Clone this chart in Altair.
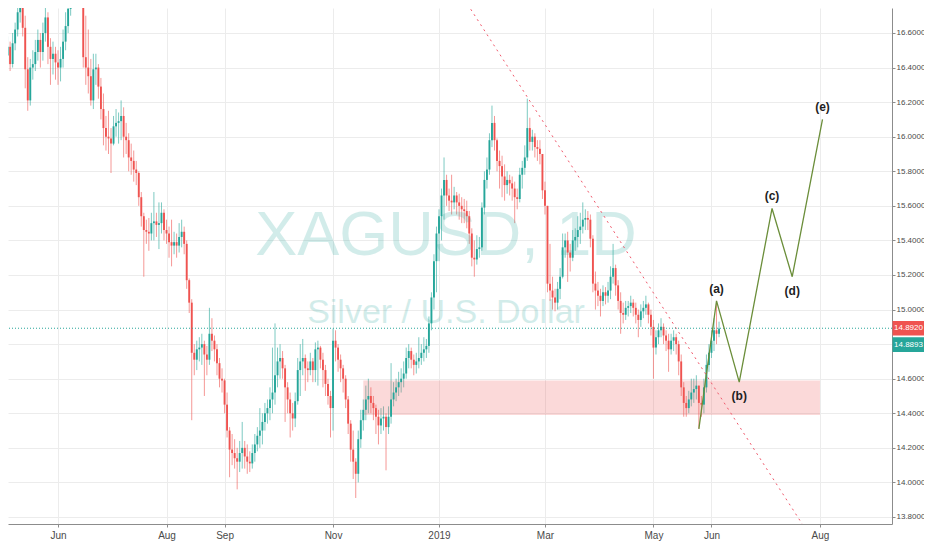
import altair as alt
import pandas as pd

# ---------------- data ----------------
first_open = 16.36
closes = [
    16.32, 16.43, 16.47, 16.52, 16.42, 16.54, 16.62, 16.72, 16.76, 16.63,
    16.39, 16.21, 16.40, 16.42, 16.49, 16.56, 16.49, 16.60, 16.69, 16.52,
    16.45, 16.48, 16.43, 16.40, 16.45, 16.55, 16.64, 16.74, 16.88, 16.97,
    16.90, 17.25, 16.85, 16.46, 16.40, 16.35, 16.21, 16.39, 16.40, 16.29,
    16.16, 16.05, 16.00, 15.99, 15.96, 16.06, 16.08, 16.09, 16.12, 16.00,
    15.98, 15.88, 15.86, 15.81, 15.79, 15.65, 15.54, 15.46, 15.45, 15.44,
    15.50, 15.51, 15.49, 15.50, 15.56, 15.46, 15.44, 15.39, 15.37, 15.39,
    15.37, 15.42, 15.45, 15.38, 15.17, 15.04, 14.75, 14.71, 14.77, 14.78,
    14.80, 14.74, 14.71, 14.86, 14.82, 14.77, 14.69, 14.60, 14.59, 14.45,
    14.30, 14.19, 14.17, 14.14, 14.12, 14.17, 14.20, 14.15, 14.12, 14.11,
    14.17, 14.22, 14.27, 14.30, 14.35, 14.40, 14.43, 14.48, 14.52, 14.62,
    14.70, 14.72, 14.66, 14.55, 14.48, 14.40, 14.37, 14.47, 14.65, 14.70,
    14.72, 14.66, 14.65, 14.70, 14.65, 14.77, 14.78, 14.71, 14.65, 14.57,
    14.50, 14.43, 14.82, 14.78, 14.71, 14.66, 14.60, 14.48, 14.34, 14.19,
    14.12, 14.05, 14.25, 14.36, 14.42, 14.48, 14.50, 14.46, 14.43, 14.38,
    14.33, 14.37, 14.38, 14.32, 14.38, 14.48, 14.52, 14.55, 14.58, 14.60,
    14.63, 14.72, 14.76, 14.71, 14.68, 14.70, 14.72, 14.75, 14.77, 14.79,
    14.92, 15.07, 15.28, 15.44, 15.54, 15.66, 15.75, 15.66, 15.63, 15.62,
    15.66, 15.62, 15.60, 15.58, 15.57, 15.54, 15.44, 15.30, 15.29, 15.35,
    15.36, 15.59, 15.75, 15.81, 15.98, 16.08, 15.98, 15.86, 15.83, 15.77,
    15.72, 15.75, 15.73, 15.70, 15.65, 15.64, 15.78, 15.82, 15.88, 16.05,
    15.97, 16.00, 15.94, 15.93, 15.90, 15.69, 15.60, 15.15, 15.11, 15.07,
    15.04, 15.12, 15.19, 15.36, 15.40, 15.33, 15.30, 15.40, 15.42, 15.46,
    15.48, 15.52, 15.53, 15.52, 15.41, 15.15, 15.11, 15.08, 15.05, 15.10,
    15.08, 15.11, 15.19, 15.24, 15.14, 15.05, 14.98, 14.97, 15.01, 15.02,
    15.04, 15.01, 14.97, 14.94, 14.99, 15.01, 15.03, 14.97, 14.90, 14.78,
    14.84, 14.88, 14.90, 14.85, 14.82, 14.77, 14.82, 14.84, 14.80, 14.70,
    14.55, 14.46, 14.43, 14.48, 14.52, 14.54, 14.56, 14.46, 14.45, 14.55,
    14.68, 14.75, 14.82, 14.88, 14.86, 14.89,
]
highs = [
    16.54, 16.48, 16.53, 16.58, 16.55, 16.60, 16.66, 16.79, 16.80, 16.78,
    16.70, 16.46, 16.45, 16.50, 16.56, 16.62, 16.60, 16.66, 16.76, 16.72,
    16.57, 16.55, 16.52, 16.50, 16.52, 16.62, 16.72, 16.82, 16.95, 17.05,
    17.02, 17.34, 17.28, 16.86, 16.70, 16.62, 16.45, 16.48, 16.48, 16.42,
    16.34, 16.25, 16.12, 16.15, 16.05, 16.12, 16.16, 16.14, 16.21, 16.17,
    16.08, 16.02, 15.96, 15.92, 15.86, 15.80, 15.68, 15.56, 15.52, 15.53,
    15.56, 15.68, 15.56, 15.62, 15.62, 15.58, 15.52, 15.48, 15.52, 15.45,
    15.44, 15.50, 15.52, 15.48, 15.40, 15.18, 15.06, 14.80, 14.82, 14.84,
    14.86, 14.82, 14.79, 15.01, 14.95, 14.85, 14.80, 14.72, 14.66, 14.60,
    14.52, 14.32, 14.28, 14.25, 14.20, 14.24, 14.35, 14.24, 14.22, 14.18,
    14.22, 14.28, 14.32, 14.43, 14.40, 14.46, 14.48, 14.55, 14.78, 14.92,
    14.78, 14.80, 14.76, 14.68, 14.58, 14.52, 14.46, 14.52, 14.72, 14.80,
    14.83, 14.74, 14.70, 14.75, 14.72, 14.81, 14.82, 14.79, 14.75, 14.68,
    14.60, 14.53, 14.89, 14.88, 14.80, 14.74, 14.68, 14.62, 14.50, 14.36,
    14.30, 14.14, 14.30, 14.42, 14.48, 14.56, 14.60, 14.55, 14.50, 14.45,
    14.42, 14.43, 14.44, 14.40, 14.44, 14.69, 14.58, 14.60, 14.64, 14.66,
    14.70, 14.78, 14.80, 14.78, 14.74, 14.75, 14.84, 14.80, 14.84, 14.83,
    14.96, 15.10, 15.32, 15.48, 15.58, 15.70, 15.88, 15.78, 15.70, 15.78,
    15.71, 15.68, 15.67, 15.65, 15.64, 15.63, 15.57, 15.47, 15.40, 15.43,
    15.42, 15.62, 15.80, 15.88, 16.02, 16.18, 16.12, 15.99, 15.92, 15.89,
    15.84, 15.80, 15.78, 15.77, 15.74, 15.70, 15.82, 15.86, 15.95, 16.22,
    16.11, 16.04, 16.02, 15.98, 15.98, 15.90, 15.74, 15.60, 15.38, 15.19,
    15.12, 15.16, 15.24, 15.44, 15.44, 15.45, 15.38, 15.46, 15.47, 15.54,
    15.56, 15.62, 15.58, 15.57, 15.55, 15.43, 15.22, 15.16, 15.12, 15.14,
    15.13, 15.16, 15.25, 15.38, 15.26, 15.17, 15.10, 15.04, 15.05, 15.05,
    15.08, 15.06, 15.04, 15.00, 15.03, 15.05, 15.08, 15.04, 15.00, 14.94,
    14.88, 14.92, 14.95, 14.92, 14.88, 14.86, 14.86, 14.88, 14.86, 14.82,
    14.74, 14.58, 14.50, 14.53, 14.60, 14.60, 14.62, 14.56, 14.50, 14.60,
    14.74, 14.80, 14.88, 14.95, 15.05, 14.93,
]
lows = [
    16.18, 16.30, 16.38, 16.42, 16.38, 16.40, 16.50, 16.58, 16.66, 16.58,
    16.28, 16.15, 16.18, 16.33, 16.38, 16.44, 16.40, 16.44, 16.55, 16.42,
    16.30, 16.36, 16.33, 16.30, 16.32, 16.40, 16.50, 16.60, 16.70, 16.84,
    16.82, 16.88, 16.75, 16.40, 16.30, 16.25, 16.18, 16.16, 16.30, 16.22,
    16.10, 15.95, 15.92, 15.90, 15.79, 15.95, 16.00, 15.96, 15.98, 15.88,
    15.90, 15.80, 15.78, 15.74, 15.72, 15.60, 15.48, 15.19, 15.38, 15.34,
    15.40, 15.40, 15.42, 15.35, 15.44, 15.40, 15.38, 15.30, 15.25, 15.32,
    15.30, 15.33, 15.36, 15.32, 15.12, 14.98, 14.36, 14.62, 14.65, 14.70,
    14.68, 14.50, 14.62, 14.68, 14.76, 14.70, 14.62, 14.55, 14.52, 14.40,
    14.26, 14.03, 14.10, 14.08, 13.96, 14.06, 14.08, 14.08, 14.05, 14.06,
    14.08, 14.12, 14.18, 14.20, 14.22, 14.30, 14.34, 14.36, 14.40, 14.45,
    14.55, 14.60, 14.60, 14.35, 14.40, 14.26, 14.30, 14.32, 14.45, 14.50,
    14.62, 14.53, 14.58, 14.62, 14.58, 14.58, 14.56, 14.66, 14.55, 14.50,
    14.45, 14.26, 14.30, 14.70, 14.64, 14.58, 14.52, 14.43, 14.28, 14.12,
    14.02, 13.91, 14.00, 14.20, 14.30, 14.36, 14.40, 14.40, 14.36, 14.28,
    14.22, 14.28, 14.30, 14.07, 14.28, 14.34, 14.44, 14.47, 14.50, 14.52,
    14.55, 14.60, 14.66, 14.66, 14.62, 14.63, 14.66, 14.68, 14.70, 14.72,
    14.75, 14.88, 15.00, 15.10, 15.28, 15.40, 15.52, 15.60, 15.57, 15.55,
    15.58, 15.55, 15.52, 15.50, 15.50, 15.47, 15.38, 15.25, 15.19, 15.26,
    15.30, 15.34, 15.55, 15.70, 15.78, 15.94, 15.92, 15.80, 15.70, 15.65,
    15.63, 15.67, 15.66, 15.63, 15.50, 15.58, 15.62, 15.70, 15.78, 15.86,
    15.92, 15.92, 15.88, 15.86, 15.84, 15.64, 15.55, 15.10, 15.05, 15.00,
    14.99, 15.00, 15.06, 15.18, 15.30, 15.16, 15.22, 15.28, 15.34, 15.36,
    15.38, 15.44, 15.46, 15.46, 15.36, 15.10, 15.00, 15.02, 14.96, 15.02,
    15.03, 15.04, 15.06, 15.15, 15.08, 15.00, 14.86, 14.92, 14.94, 14.96,
    14.98, 14.96, 14.92, 14.84, 14.90, 14.95, 14.97, 14.92, 14.85, 14.60,
    14.74, 14.80, 14.84, 14.80, 14.76, 14.64, 14.74, 14.76, 14.74, 14.62,
    14.50, 14.38, 14.38, 14.40, 14.44, 14.46, 14.48, 14.31, 14.38, 14.40,
    14.52, 14.64, 14.72, 14.76, 14.80, 14.84,
]

start_day = "2018-05-01"
end_day = "2019-12-31"
holidays = ["2018-12-25", "2019-01-01"]
tick_months = ["2018-06-01", "2018-08-01", "2018-09-01", "2018-11-01",
               "2019-01-01", "2019-03-01", "2019-05-01", "2019-06-01", "2019-08-01"]
tick_labels = ["Jun", "Aug", "Sep", "Nov", "2019", "Mar", "May", "Jun", "Aug"]
price_ticks = [13.8, 14.0, 14.2, 14.4, 14.6, 14.8, 15.0, 15.2, 15.4,
               15.6, 15.8, 16.0, 16.2, 16.4, 16.6]
hidden_tick = 14.8   # its label sits under the price boxes in the reference

last_price = 14.8920
last_close = 14.8893

zone_idx = [144, 325]
zone_price = [14.39, 14.59]

trend_idx = [175, 325]
trend_price = [17.00, 13.60]

path_idx = [277, 284, 293, 306, 314, 326]
path_price = [14.31, 15.05, 14.58, 15.585, 15.19, 16.10]
path_labels = ["", "(a)", "(b)", "(c)", "(d)", "(e)"]
label_above = ["(a)", "(c)", "(e)"]

title_text = "XAGUSD, 1D"
subtitle_text = "Silver / U.S. Dollar"

# ---------------- build tables ----------------
UP = "#26a69a"
DOWN = "#ef5350"
PATH = "#6b8e3a"
SANS = "Liberation Sans, Arial, sans-serif"

n = len(closes)
opens = [first_open] + closes[:-1]
df = pd.DataFrame({"i": list(range(n)), "open": opens, "close": closes,
                   "high": highs, "low": lows})

dates = pd.bdate_range(start_day, end_day, freq="C", holidays=holidays)
tick_idx = [int(dates.searchsorted(pd.Timestamp(m))) for m in tick_months]
expr = "''"
for ti, tl in reversed(list(zip(tick_idx, tick_labels))):
    expr = f"datum.value == {ti} ? '{tl}' : ({expr})"
y_expr = f"abs(datum.value - {hidden_tick}) < 0.001 ? '' : format(datum.value, '.4f')"

zone_df = pd.DataFrame({"x1": [zone_idx[0]], "x2": [zone_idx[1]],
                        "p1": [zone_price[0]], "p2": [zone_price[1]]})
trend_df = pd.DataFrame({"i": trend_idx, "p": trend_price})
path_df = pd.DataFrame({"i": path_idx, "p": path_price, "lab": path_labels})
above_df = path_df[path_df.lab.isin(label_above)]
below_df = path_df[(path_df.lab != "") & (~path_df.lab.isin(label_above))]
last_df = pd.DataFrame({"p": [last_price], "t": [f"{last_price:.4f}"]})
close_df = pd.DataFrame({"p": [last_close], "t": [f"{last_close:.4f}"]})

W, H = 884, 516
xs = alt.Scale(domain=[3.17, 353.55], nice=False, zero=False, padding=0)
ys = alt.Scale(domain=[13.7595, 16.7446], nice=False, zero=False, padding=0)

x_axis = alt.Axis(values=tick_idx, labelExpr=expr, title=None, grid=True,
                  gridColor="#ececec", domainColor="#8c8c8c", tickColor="#8c8c8c",
                  tickSize=3, labelPadding=3, labelFontSize=10, labelColor="#4a4a4a",
                  labelFont=SANS, labelFlush=False)
y_axis = alt.Axis(orient="right", values=price_ticks, labelExpr=y_expr, title=None,
                  grid=True, gridColor="#ececec", domainColor="#8c8c8c",
                  tickColor="#8c8c8c", tickSize=3, labelPadding=1, labelFontSize=8,
                  labelColor="#4a4a4a", labelFont=SANS)


def X(field):
    return alt.X(field, scale=xs, axis=x_axis)


def Y(field):
    return alt.Y(field, scale=ys, axis=y_axis)


color_cond = alt.condition("datum.close >= datum.open", alt.value(UP), alt.value(DOWN))

wm1 = alt.Chart(pd.DataFrame({"t": [title_text]})).mark_text(
    font=SANS, fontSize=63, color=UP, opacity=0.2, align="center",
    baseline="alphabetic").encode(text="t:N", x=alt.value(438), y=alt.value(247))
wm2 = alt.Chart(pd.DataFrame({"t": [subtitle_text]})).mark_text(
    font=SANS, fontSize=34, color=UP, opacity=0.2,
    align="center", baseline="alphabetic").encode(text="t:N", x=alt.value(438),
                                                  y=alt.value(315))

zone = alt.Chart(zone_df).mark_rect(color=DOWN, opacity=0.22, clip=True).encode(
    x=X("x1:Q"), x2="x2:Q", y=Y("p1:Q"), y2="p2:Q")

wick = alt.Chart(df).mark_rule(strokeWidth=1, opacity=0.6, clip=True).encode(
    x=X("i:Q"), y=Y("low:Q"), y2="high:Q", color=color_cond)
body = alt.Chart(df).mark_bar(width=1.9, clip=True).encode(
    x=X("i:Q"), y=Y("open:Q"), y2="close:Q", color=color_cond)

trend = alt.Chart(trend_df).mark_line(color="#f0576a", strokeWidth=1,
                                      strokeDash=[2, 4], clip=True).encode(
    x=X("i:Q"), y=Y("p:Q"))

last_line = alt.Chart(last_df).mark_rule(color=UP, strokeWidth=1,
                                         strokeDash=[1, 2]).encode(y=Y("p:Q"))

path = alt.Chart(path_df).mark_line(color=PATH, strokeWidth=1.3, clip=True).encode(
    x=X("i:Q"), y=Y("p:Q"))

lab_up = alt.Chart(above_df).mark_text(fontSize=12, fontWeight="bold", color="#1e1e1e",
                                       dy=-12, font=SANS).encode(
    x=X("i:Q"), y=Y("p:Q"), text="lab:N")
lab_dn = alt.Chart(below_df).mark_text(fontSize=12, fontWeight="bold", color="#1e1e1e",
                                       dy=14, font=SANS).encode(
    x=X("i:Q"), y=Y("p:Q"), text="lab:N")

BOX = "M-1,-0.46L1,-0.46L1,0.46L-1,0.46Z"
BOX_X = 900.5
box_last = alt.Chart(last_df).mark_point(shape=BOX, size=1024, filled=True, opacity=1,
                                         color=DOWN, strokeWidth=0).encode(
    x=alt.value(BOX_X), y=Y("p:Q"))
txt_last = alt.Chart(last_df).mark_text(color="white", fontSize=8, font=SANS,
                                        align="center", baseline="middle").encode(
    x=alt.value(BOX_X), y=Y("p:Q"), text="t:N")
box_close = alt.Chart(close_df).mark_point(shape=BOX, size=1024, filled=True, opacity=1,
                                           color=UP, strokeWidth=0, yOffset=16).encode(
    x=alt.value(BOX_X), y=Y("p:Q"))
txt_close = alt.Chart(close_df).mark_text(color="white", fontSize=8, font=SANS,
                                          align="center", baseline="middle",
                                          dy=16).encode(
    x=alt.value(BOX_X), y=Y("p:Q"), text="t:N")

chart = alt.layer(
    wick, wm1, wm2, zone, body, trend, last_line, path, lab_up, lab_dn,
    box_last, txt_last, box_close, txt_close,
).properties(
    width=W, height=H,
    autosize=alt.AutoSizeParams(type="none"),
    padding={"left": 0, "top": 0, "right": 32, "bottom": 17},
).configure_view(strokeWidth=0)

chart.save("out.html", embed_options={"renderer": "svg", "actions": False})
